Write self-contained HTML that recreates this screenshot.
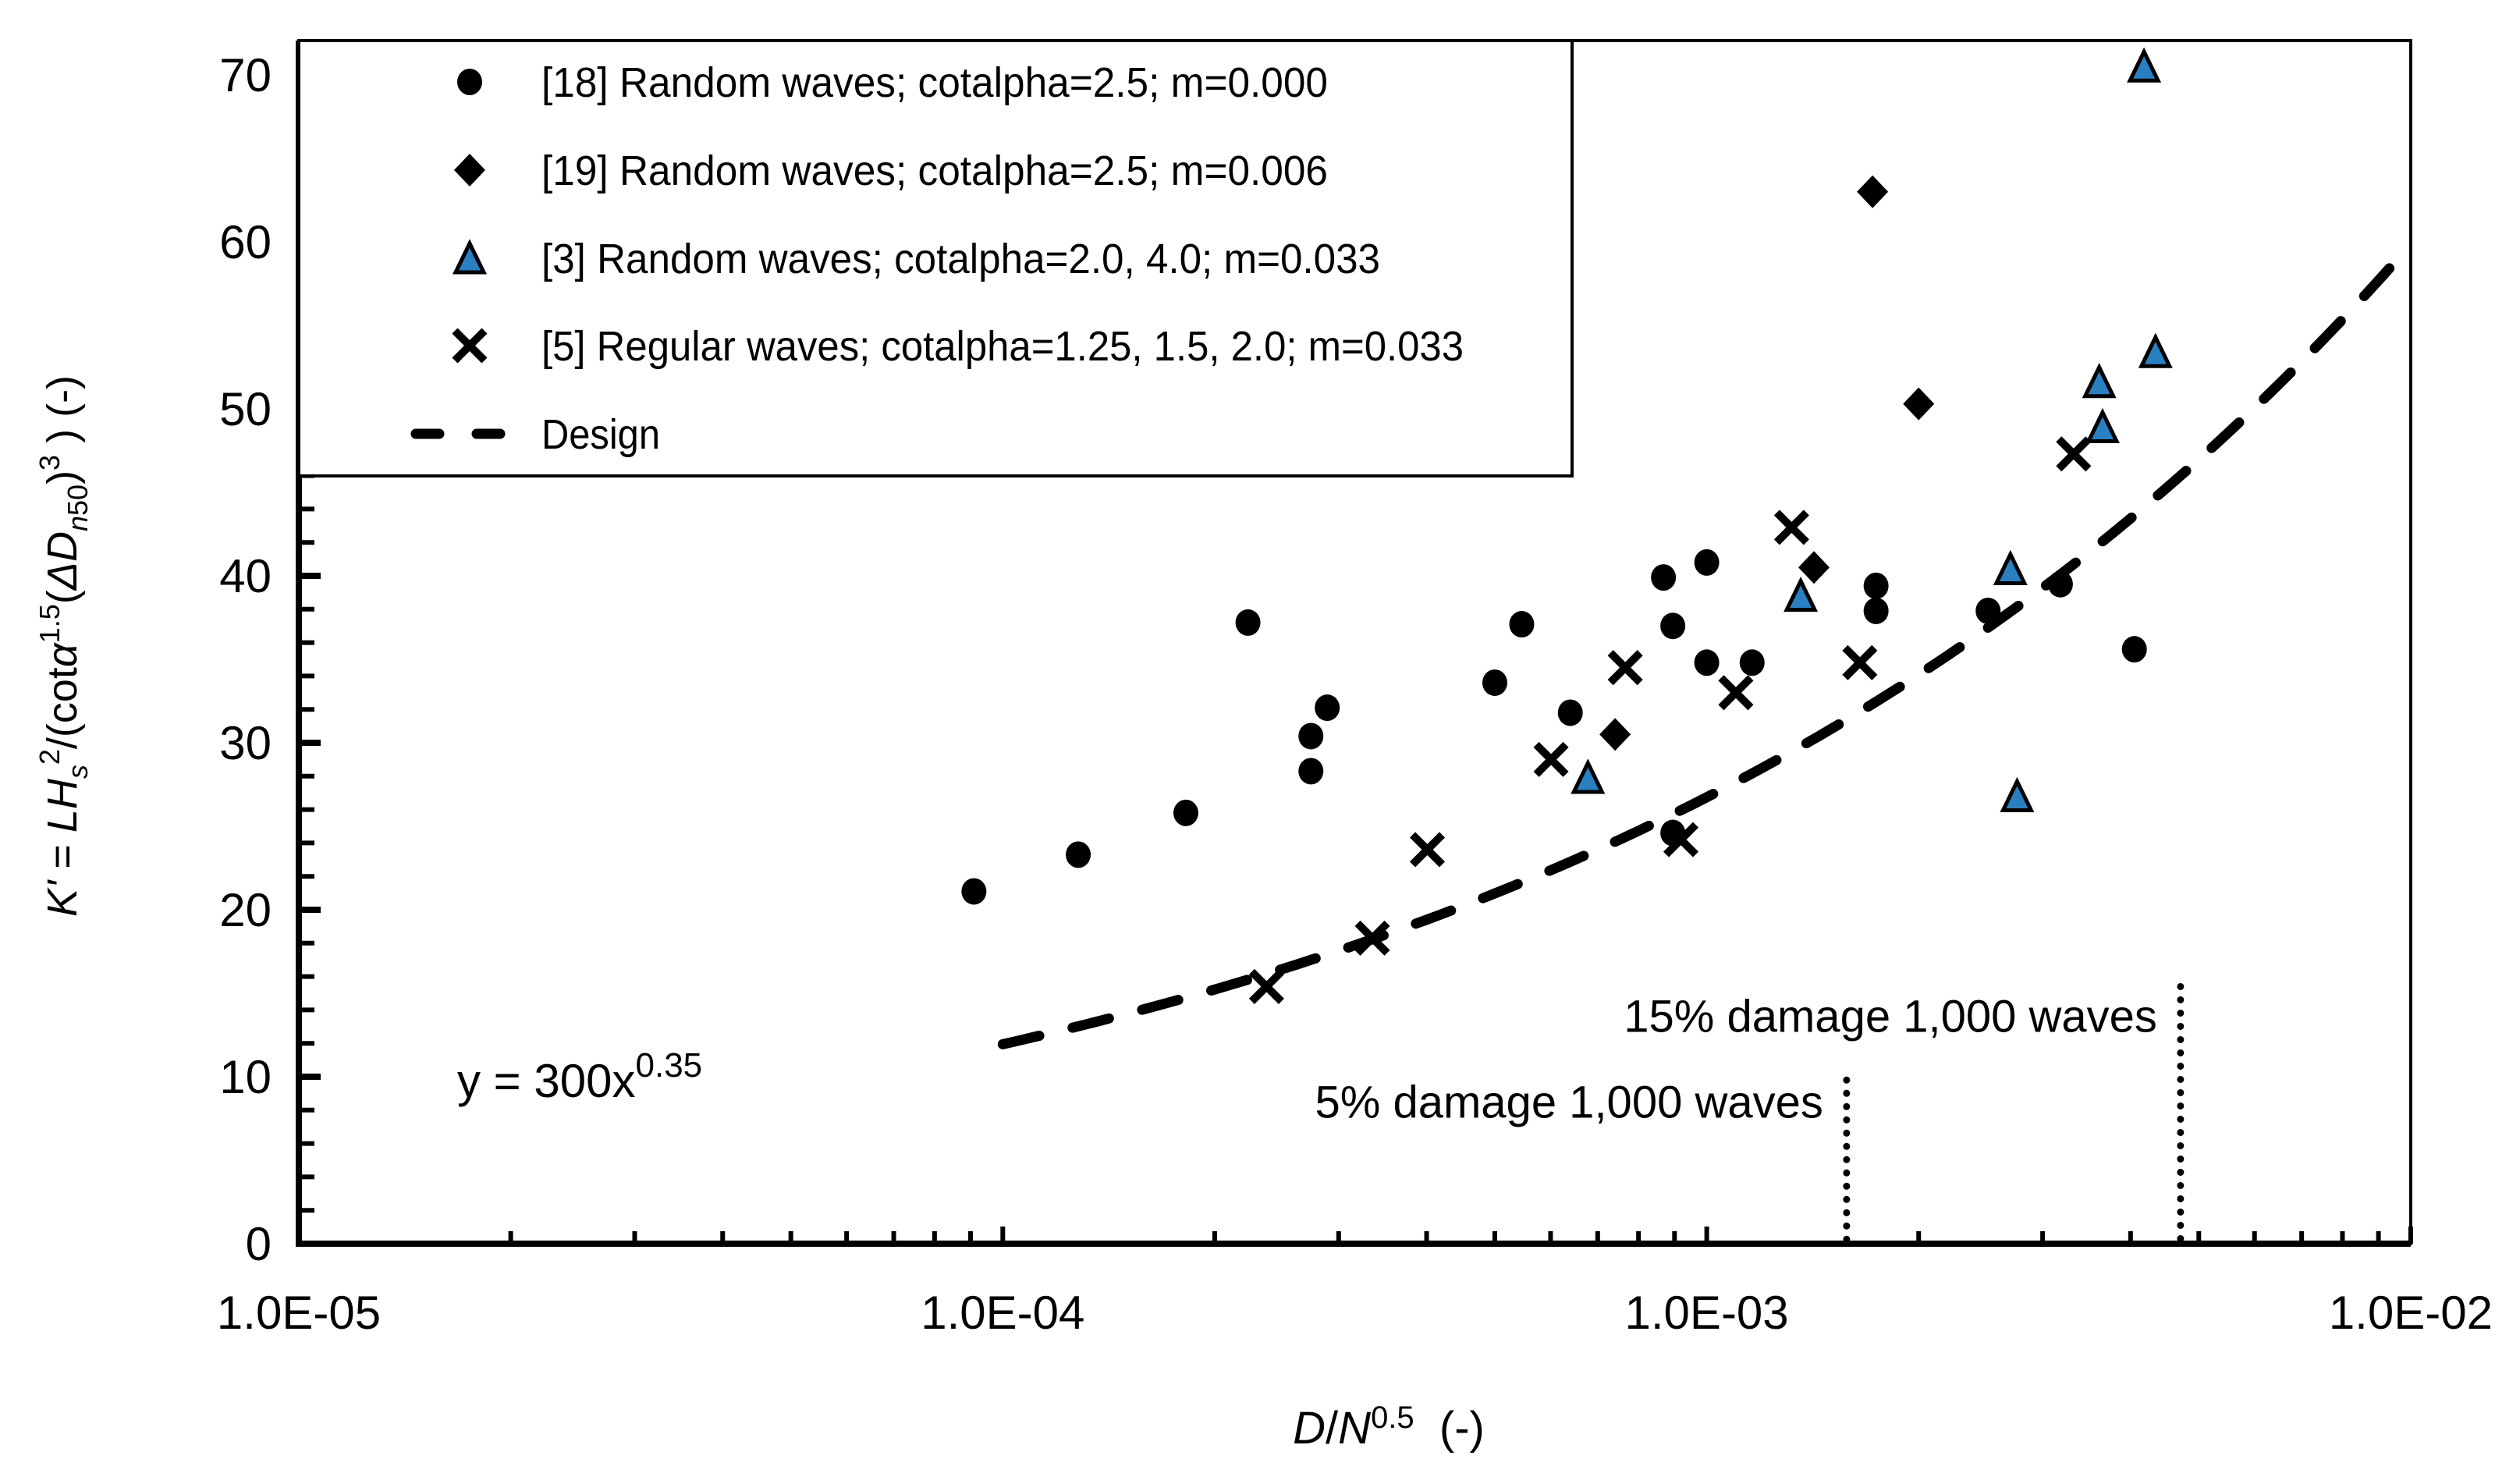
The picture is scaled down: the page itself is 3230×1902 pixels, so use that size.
<!DOCTYPE html>
<html><head><meta charset="utf-8">
<style>
html,body{margin:0;padding:0;background:#fff;}
svg{display:block;font-family:"Liberation Sans",sans-serif;}
</style></head>
<body>
<svg id="chart" width="3230" height="1902" viewBox="0 0 3230 1902" xmlns="http://www.w3.org/2000/svg">
<g id="axes"></g>
<g id="marks"></g>
<g id="legend"></g>
</svg>
<script>
// ---- data ----
const ref18X = [9.1e-5,1.28e-4,1.82e-4,2.23e-4,2.74e-4,2.74e-4,2.89e-4,5.0e-4,5.46e-4,6.4e-4,8.68e-4,8.95e-4,8.95e-4,1.0e-3,1.0e-3,1.16e-3,1.74e-3,1.74e-3,2.51e-3,3.18e-3,4.05e-3];
const ref18Y = [21.1,23.3,25.8,37.2,30.4,28.3,32.1,33.6,37.1,31.8,39.9,37.0,24.6,40.8,34.8,34.8,39.4,37.9,37.9,39.5,35.6];
const ref19X = [7.41e-4,1.42e-3,1.72e-3,2.0e-3];
const ref19Y = [30.5,40.5,63.0,50.3];
const ref3X = [6.78e-4,1.36e-3,2.70e-3,2.76e-3,3.61e-3,3.65e-3,4.18e-3,4.34e-3];
const ref3Y = [27.9,38.8,40.4,26.8,51.6,48.9,70.5,53.4];
const ref5X = [2.37e-4,3.35e-4,4.01e-4,6.01e-4,7.66e-4,9.19e-4,1.10e-3,1.32e-3,1.65e-3,3.32e-3];
const ref5Y = [15.4,18.3,23.6,29.0,34.5,24.2,33.0,42.9,34.8,47.3];
const designCoef = 300, designExp = 0.35;
const designRange = [1e-4, 1e-2];
const damageX = [1.58e-3, 4.71e-3];
const damageTopY = [9.8, 15.4];
const damageLabels = ["5% damage 1,000 waves","15% damage 1,000 waves"];
const yTicks = [0,10,20,30,40,50,60,70];
const xDecades = [-5,-4,-3,-2];
const xTickLabels = ["1.0E-05","1.0E-04","1.0E-03","1.0E-02"];

// ---- scales ----
const X0 = 383, DEC = 902.3, Y0 = 1594, YU = 21.4;
const sx = v => X0 + (Math.log10(v) + 5) * DEC;
const sy = v => Y0 - v * YU;
const NS = "http://www.w3.org/2000/svg";
function mk(tag, attrs, parent){ const e = document.createElementNS(NS, tag); for (const k in attrs) e.setAttribute(k, attrs[k]); parent.appendChild(e); return e; }
const axes = document.getElementById('axes'), marks = document.getElementById('marks'), legend = document.getElementById('legend');
const R = sx(1e-2), T = 52;

let fr = mk('rect',{x:X0,y:T,width:R-X0,height:Y0-T,fill:'none',stroke:'#000','stroke-width':4},axes);
 
let xa = mk('line',{x1:X0,y1:Y0,x2:R,y2:Y0,stroke:'#000','stroke-width':8},axes);
 
let ya = mk('line',{x1:X0,y1:T,x2:X0,y2:Y0+4,stroke:'#000','stroke-width':8},axes);
 

for (let v = 0; v <= 70; v += 2) {
  const major = v % 10 === 0;
  const t = mk('line',{x1:X0,y1:sy(v),x2:X0+(major?28:20),y2:sy(v),stroke:'#000','stroke-width':major?8:6},axes);
   
}
yTicks.forEach(v => {
  const t = mk('text',{x:348,y:sy(v)+21,'text-anchor':'end','font-size':60},axes);
  t.textContent = v;
   
});
xDecades.forEach((d,i) => {
  for (let m = 1; m <= 9; m++) {
    if (d === -2 && m > 1) break;
    const v = m * Math.pow(10,d);
    const t = mk('line',{x1:sx(v),y1:Y0,x2:sx(v),y2:Y0-(m===1?22:16),stroke:'#000','stroke-width':6},axes);
     
  }
  const l = mk('text',{x:sx(Math.pow(10,d)),y:1703,'text-anchor':'middle','font-size':60},axes);
  l.textContent = xTickLabels[i];
   
});
let xt = mk('text',{x:1780,y:1850,'text-anchor':'middle','font-size':58},axes);
xt.innerHTML = '<tspan font-style="italic">D</tspan>/<tspan font-style="italic">N</tspan><tspan font-size="40" dy="-20">0.5</tspan><tspan dy="20">&#160;&#160;(-)</tspan>';
 
let yt = mk('text',{x:0,y:0,'text-anchor':'middle','font-size':54,transform:'translate(98,828) rotate(-90)'},axes);
yt.innerHTML = '<tspan font-style="italic">K\'</tspan> = <tspan font-style="italic">LH</tspan><tspan font-style="italic" font-size="36" dy="14">s</tspan><tspan font-size="36" dy="-36">2</tspan><tspan dy="22">/(cot</tspan><tspan font-style="italic">α</tspan><tspan font-size="36" dy="-22">1.5</tspan><tspan dy="22">(</tspan><tspan font-style="italic">ΔD</tspan><tspan font-style="italic" font-size="36" dy="14">n</tspan><tspan font-size="36">50</tspan><tspan dy="-14">)</tspan><tspan font-size="36" dy="-22">3</tspan><tspan dy="22"> ) (-)</tspan>';
 

let eq = mk('text',{x:586,y:1406,'font-size':60},axes);
eq.innerHTML = 'y = 300x<tspan font-size="44" dy="-26">0.35</tspan>';
 
damageX.forEach((v,i) => {
  const l = mk('line',{x1:sx(v),y1:sy(damageTopY[i]),x2:sx(v),y2:Y0,stroke:'#000','stroke-width':9,'stroke-dasharray':'0 17','stroke-linecap':'round'},axes);
   
  const t = mk('text',{x:sx(v)-30,y:sy(damageTopY[i])+(i===0?48:58),'text-anchor':'end','font-size':58},axes);
  t.textContent = damageLabels[i];
   
});

let pts = [];
for (let k = 0; k <= 100; k++) { const lx = Math.log10(designRange[0]) + k/100*(Math.log10(designRange[1])-Math.log10(designRange[0])); const v = Math.pow(10,lx); pts.push(sx(v).toFixed(1)+','+sy(designCoef*Math.pow(v,designExp)).toFixed(1)); }
let dc = mk('polyline',{points:pts.join(' '),fill:'none',stroke:'#000','stroke-width':13,'stroke-dasharray':'48 44','stroke-linecap':'round'},marks);
 

function circle(x,y,p){ return mk('ellipse',{cx:x,cy:y,rx:16,ry:17,fill:'#000'},p); }
function diamond(x,y,p){ return mk('polygon',{points:`${x},${y-21} ${x+20},${y} ${x},${y+21} ${x-20},${y}`,fill:'#000'},p); }
function tri(x,y,p){ return mk('polygon',{points:`${x},${y-19} ${x+18},${y+18} ${x-18},${y+18}`,fill:'#2a7fc0',stroke:'#000','stroke-width':5,'stroke-linejoin':'miter'},p); }
function cross(x,y,p){ const g = mk('g',{},p); mk('path',{d:`M${x-19},${y-19}L${x+19},${y+19}M${x+19},${y-19}L${x-19},${y+19}`,stroke:'#000','stroke-width':10},g); return g; }
ref18X.forEach((v,i)=>{ const e = circle(sx(v),sy(ref18Y[i]),marks);
    });
ref19X.forEach((v,i)=>{ const e = diamond(sx(v),sy(ref19Y[i]),marks);
    });
ref5X.forEach((v,i)=>{ const e = cross(sx(v),sy(ref5Y[i]),marks);
    });
ref3X.forEach((v,i)=>{ const e = tri(sx(v),sy(ref3Y[i]),marks);
    });

let lb = mk('rect',{x:X0,y:T,width:2015-X0,height:610-T,fill:'#fff',stroke:'#000','stroke-width':4},legend);
 
const legTexts = ["[18] Random waves; cotalpha=2.5; m=0.000","[19] Random waves; cotalpha=2.5; m=0.006","[3] Random waves; cotalpha=2.0, 4.0; m=0.033","[5] Regular waves; cotalpha=1.25, 1.5, 2.0; m=0.033","Design"];
const legLen = [1008,1008,1075,1182,152];
const legY = [105,218,331,443,556];
const makers = [circle,diamond,tri,cross];
legTexts.forEach((s,i)=>{
  let m;
  if (i < 4) m = makers[i](602, legY[i], legend);
  else m = mk('line',{x1:533,y1:legY[i],x2:655,y2:legY[i],stroke:'#000','stroke-width':13,'stroke-dasharray':'30 48','stroke-linecap':'round'},legend);
   
  const t = mk('text',{x:694,y:legY[i]+19,'font-size':54,textLength:legLen[i],lengthAdjust:'spacingAndGlyphs'},legend);
  t.textContent = s;
   
});
</script>
</body></html>
